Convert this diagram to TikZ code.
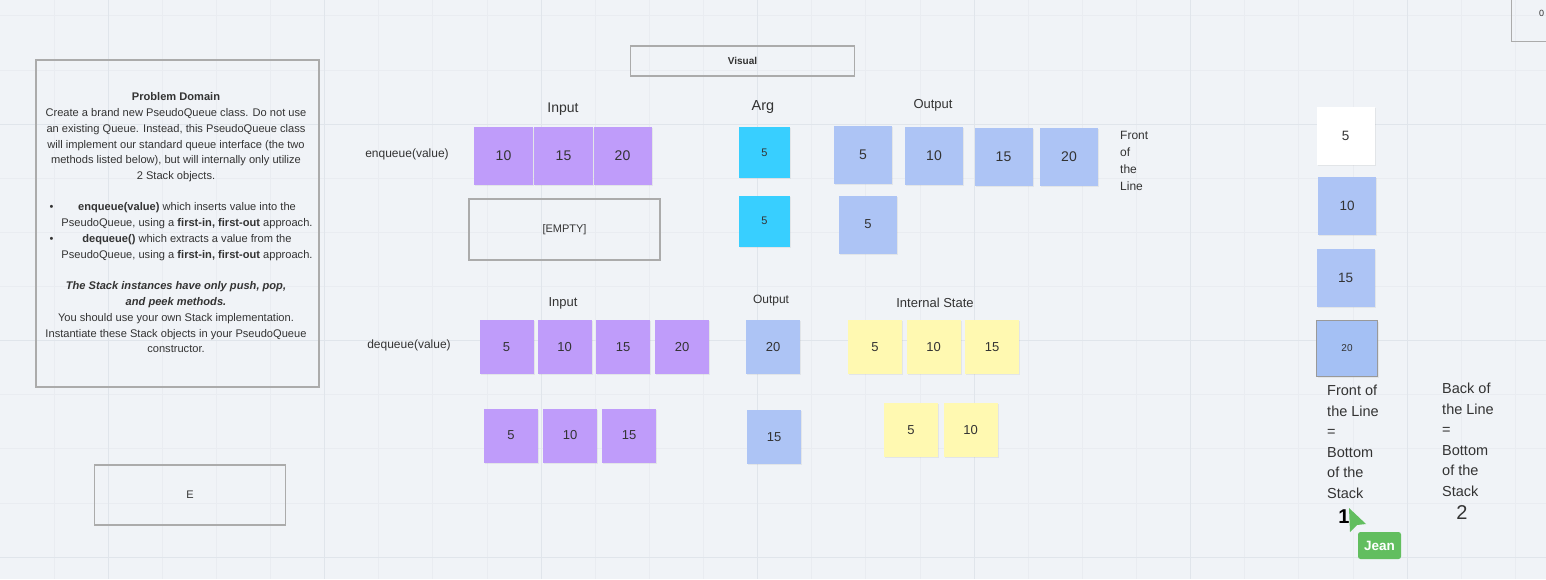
\documentclass[tikz,border=0pt]{standalone}
\usepackage{fontspec}
\setmainfont{Liberation Sans}
\usetikzlibrary{shadows}
\definecolor{canvas}{HTML}{F0F3F7}
\definecolor{gridminor}{HTML}{E9ECF1}
\definecolor{gridmajor}{HTML}{E0E5EB}
\definecolor{boxgrey}{HTML}{ABABAB}
\definecolor{textgrey}{HTML}{333333}
\definecolor{notepurple}{HTML}{BF9CFA}
\definecolor{notecyan}{HTML}{38CFFF}
\definecolor{noteblue}{HTML}{ADC4F5}
\definecolor{notedeep}{HTML}{A4C0F4}
\definecolor{noteyellow}{HTML}{FFF9B1}
\definecolor{cursorgreen}{HTML}{62BE5F}

\begin{document}
\begin{tikzpicture}[x = 1pt, y = -1pt]
\tikzstyle{NoteStyle}=[shape = rectangle,
                       inner sep = 0pt,
                       minimum width = 58pt,
                       minimum height = 58pt,
                       text = textgrey,
                       drop shadow = {shadow xshift = 1pt, shadow yshift = -1.2pt, opacity = 0.12},
                       font = \fontsize{14}{14}\selectfont]
\tikzstyle{PurpleNote}=[NoteStyle, fill = notepurple]
\tikzstyle{CyanNote}=[NoteStyle, fill = notecyan, minimum size = 51pt, font = \fontsize{11}{11}\selectfont]
\tikzstyle{BlueNote}=[NoteStyle, fill = noteblue]
\tikzstyle{YellowNote}=[NoteStyle, fill = noteyellow]
\tikzstyle{SmallNote}=[minimum size = 54pt, font = \fontsize{13}{13}\selectfont]
\tikzstyle{FrameStyle}=[shape = rectangle, draw = boxgrey, line width = 1.4pt, inner sep = 0pt, text = textgrey]
\tikzstyle{LabelStyle}=[inner sep = 0pt, text = textgrey]
\useasboundingbox (0,0) rectangle (1546,579);
\fill[canvas] (0,0) rectangle (1546,579);
% grid
\foreach \i in {-1,...,27}
  \draw[gridminor, line width = 0.6pt] ({108+54.125*\i},0) -- ({108+54.125*\i},579);
\foreach \i in {-2,...,10}
  \draw[gridminor, line width = 0.6pt] (0,{124+54.125*\i}) -- (1546,{124+54.125*\i});
\foreach \i in {0,...,6}
  \draw[gridmajor, line width = 0.9pt] ({108+216.5*\i},0) -- ({108+216.5*\i},579);
\foreach \i in {0,...,2}
  \draw[gridmajor, line width = 0.9pt] (0,{124+216.5*\i}) -- (1546,{124+216.5*\i});
% problem domain
\node[FrameStyle, minimum width = 283pt, minimum height = 327pt] (domain) at (177.5,223.5) {};
\node[LabelStyle, anchor = north, align = center, font = \fontsize{11.1}{15.8}\selectfont] (domaintop) at (176,92.5)
  {\textbf{Problem Domain}\\
   Create a brand new PseudoQueue class. Do not use\\
   an existing Queue. Instead, this PseudoQueue class\\
   will implement our standard queue interface (the two\\
   methods listed below), but will internally only utilize\\
   2 Stack objects.};
\node[LabelStyle, anchor = north, align = center, font = \fontsize{11.1}{15.8}\selectfont] (domainlist) at (187,202.5)
  {\textbf{enqueue(value)} which inserts value into the\\
   PseudoQueue, using a \textbf{first-in, first-out} approach.\\
   \textbf{dequeue()} which extracts a value from the\\
   PseudoQueue, using a \textbf{first-in, first-out} approach.};
\node[LabelStyle, font = \fontsize{11}{11}\selectfont] (dot1) at (51.5,208) {•};
\node[LabelStyle, font = \fontsize{11}{11}\selectfont] (dot2) at (51.5,240) {•};
\node[LabelStyle, anchor = north, align = center, font = \fontsize{11.1}{15.8}\selectfont] (domainend) at (176,281.5)
  {\textbf{\textit{The Stack instances have only push, pop,}}\\
   \textbf{\textit{and peek methods.}}\\
   You should use your own Stack implementation.\\
   Instantiate these Stack objects in your PseudoQueue\\
   constructor.};
\node[FrameStyle, minimum width = 191pt, minimum height = 60pt, font = \fontsize{11}{11}\selectfont] (ebox) at (190,495) {E};
% headings
\node[FrameStyle, minimum width = 224pt, minimum height = 30pt, font = \bfseries\fontsize{10}{10}\selectfont] (visual) at (742.5,61) {Visual};
\node[LabelStyle, font = \fontsize{14}{14}\selectfont] (ininput) at (563,109) {Input};
\node[LabelStyle, font = \fontsize{14.5}{14.5}\selectfont] (inarg) at (763,107) {Arg};
\node[LabelStyle, font = \fontsize{13}{13}\selectfont] (inoutput) at (933,105) {Output};
\node[LabelStyle, font = \fontsize{12}{12}\selectfont] (enq) at (407,154) {enqueue(value)};
\node[LabelStyle, anchor = north west, align = left, font = \fontsize{12}{17}\selectfont] (front) at (1120,131.5)
  {Front\\of\\the\\Line};
% enqueue
\node[PurpleNote, minimum width = 59pt] (e10) at (503.5,156) {10};
\node[PurpleNote, minimum width = 59pt] (e15) at (563.5,156) {15};
\node[PurpleNote, minimum width = 58pt] (e20) at (622.5,156) {20};
\node[CyanNote] (a1) at (764.5,152.5) {5};
\node[BlueNote] (o5) at (863,155) {5};
\node[BlueNote] (o10) at (934,155.5) {10};
\node[BlueNote] (o15) at (1003.5,157) {15};
\node[BlueNote] (o20) at (1069,157) {20};
\node[FrameStyle, minimum width = 191pt, minimum height = 61pt, font = \fontsize{11}{11}\selectfont] (empty) at (564.5,229.5) {[EMPTY]};
\node[CyanNote] (a2) at (764.5,221) {5};
\node[BlueNote, font = \fontsize{13}{13}\selectfont] (p5) at (868,224.5) {5};
% dequeue
\node[LabelStyle, font = \fontsize{13}{13}\selectfont] (deinput) at (563,303) {Input};
\node[LabelStyle, font = \fontsize{12}{12}\selectfont] (deoutput) at (771,301) {Output};
\node[LabelStyle, font = \fontsize{13}{13}\selectfont] (destate) at (935,303) {Internal State};
\node[LabelStyle, font = \fontsize{12}{12}\selectfont] (deq) at (409,345) {dequeue(value)};
\node[PurpleNote, SmallNote] (d5) at (506.5,347) {5};
\node[PurpleNote, SmallNote] (d10) at (564.5,347) {10};
\node[PurpleNote, SmallNote] (d15) at (623,347) {15};
\node[PurpleNote, SmallNote] (d20) at (682,347) {20};
\node[BlueNote, SmallNote] (r20) at (773,347) {20};
\node[YellowNote, SmallNote] (s5) at (875,347) {5};
\node[YellowNote, SmallNote] (s10) at (933.5,347) {10};
\node[YellowNote, SmallNote] (s15) at (992,347) {15};
\node[PurpleNote, SmallNote] (f5) at (511,435.5) {5};
\node[PurpleNote, SmallNote] (f10) at (570,435.5) {10};
\node[PurpleNote, SmallNote] (f15) at (629,435.5) {15};
\node[BlueNote, SmallNote] (r15) at (774,437) {15};
\node[YellowNote, SmallNote] (t5) at (911,430) {5};
\node[YellowNote, SmallNote] (t10) at (970.5,430) {10};
% stack on the right
\node[NoteStyle, fill = white, font = \fontsize{13.5}{13.5}\selectfont] (k5) at (1345.5,136) {5};
\node[BlueNote, font = \fontsize{13.5}{13.5}\selectfont] (k10) at (1347,206) {10};
\node[BlueNote, font = \fontsize{13.5}{13.5}\selectfont] (k15) at (1345.5,277.5) {15};
\node[NoteStyle, fill = notedeep, draw = black!40, line width = 1pt, minimum width = 61pt, minimum height = 56pt,
      font = \fontsize{10}{10}\selectfont] (k20) at (1347,348.5) {20};
\node[LabelStyle, anchor = north west, align = left, font = \fontsize{14.5}{20.5}\selectfont] (stack1) at (1327,385)
  {Front of\\the Line\\=\\Bottom\\of the\\Stack};
\node[LabelStyle, anchor = north west, align = left, font = \fontsize{14.5}{20.5}\selectfont] (stack2) at (1442,383)
  {Back of\\the Line\\=\\Bottom\\of the\\Stack};
\node[LabelStyle, text = black, font = \bfseries\fontsize{20}{20}\selectfont] (one) at (1344,517) {1};
\node[LabelStyle, font = \fontsize{20}{20}\selectfont] (two) at (1462,513) {2};
% cursor
\fill[cursorgreen] (1349,508) -- (1366,524) -- (1357,525) -- (1350,532) -- cycle;
\node[fill = cursorgreen, rounded corners = 2.5pt, minimum width = 43pt, minimum height = 27pt, inner sep = 0pt,
      text = white, font = \bfseries\fontsize{13.5}{13.5}\selectfont] (jean) at (1379.5,545.5) {Jean};
% box at the edge
\node[FrameStyle, line width = 1pt, minimum width = 50pt, minimum height = 48pt] (edge) at (1536,17) {};
\node[LabelStyle, font = \fontsize{9}{9}\selectfont] (zero) at (1541.5,13) {0};
\end{tikzpicture}
\end{document}
